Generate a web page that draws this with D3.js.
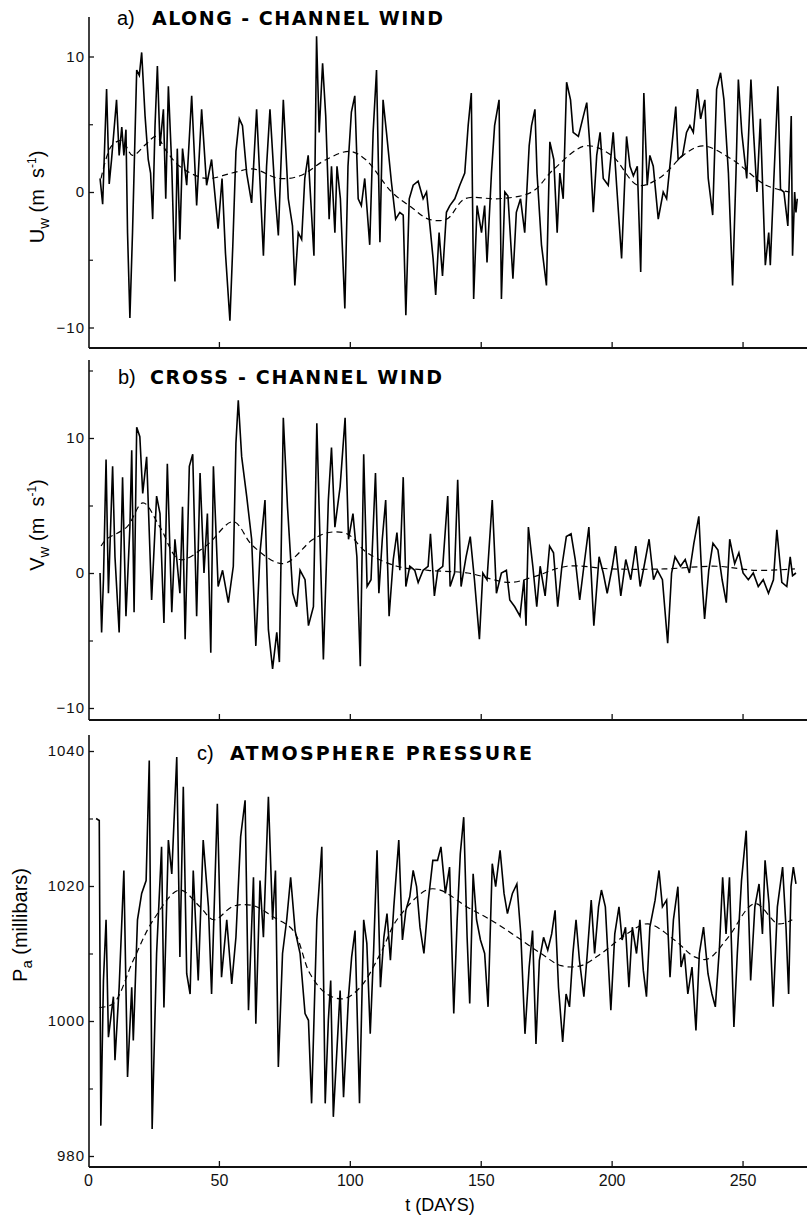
<!DOCTYPE html>
<html>
<head>
<meta charset="utf-8">
<script src="https://cdn.jsdelivr.net/npm/d3@7"></script>
<style>
  body { margin: 0; background: #fff; }
  svg { display: block; font-family: "Liberation Sans", Arial, sans-serif; }
  .tick text { font-size: 15px; fill: #111; letter-spacing: 1px; }
  .xlab .tick text { font-size: 16px; letter-spacing: 0; }
  .ylab { white-space: pre; }
  .ptitle { font-family: "DejaVu Sans", sans-serif; font-weight: bold; font-size: 19px; }
</style>
</head>
<body>
<div class="chart"></div>
<script>
// tick values
const xTicks = [0, 50, 100, 150, 200, 250];
const windTicks = [-10, 0, 10];
const windMinor = [-5, 5];
const pressTicks = [980, 1000, 1020, 1040];
const pressMinor = [990, 1010, 1030];

// a) along-channel wind (m/s)
const uDay = [4.6,5.6,7.1,8.1,9.0,10.9,11.9,12.9,13.7,14.5,15.1,16.0,17.0,18.6,19.6,20.5,21.8,23.0,23.9,24.7,25.6,26.5,27.5,28.8,29.7,30.7,32.0,33.2,34.1,35.1,36.1,37.7,39.6,41.5,43.4,45.3,47.2,49.7,51.2,52.5,54.2,55.3,56.5,57.8,59.0,60.6,62.5,64.4,65.7,67.0,68.2,69.5,71.4,72.7,74.6,76.5,78.1,79.0,80.3,81.6,82.8,84.1,85.4,86.3,87.3,88.3,89.6,90.8,92.1,93.0,94.3,95.1,96.4,98.1,99.3,100.6,101.9,103.2,104.4,105.7,107.6,108.9,110.2,111.5,112.7,114.0,115.9,117.5,119.1,120.4,121.4,122.7,124.2,126.1,128.0,129.3,130.6,131.8,132.8,134.1,135.4,136.9,138.2,140.1,142.0,143.9,145.2,146.4,147.3,148.6,150.3,151.5,152.4,154.1,155.3,157.0,157.9,159.2,160.4,162.3,163.6,165.2,166.8,168.5,169.4,170.7,171.5,173.2,175.1,176.4,177.9,179.2,180.2,181.5,182.8,184.3,185.3,187.3,189.2,190.5,191.7,193.0,194.3,195.6,196.8,198.7,200.6,201.9,203.8,205.7,207.0,208.3,209.8,211.1,212.3,213.6,214.6,215.9,217.8,219.7,221.0,222.9,224.5,225.4,227.1,228.6,229.9,231.2,232.8,234.0,235.6,236.9,238.6,240.1,241.6,242.9,244.6,246.2,247.5,248.4,249.7,251.6,253.2,254.2,255.5,256.8,258.7,260.0,260.6,261.9,263.5,264.5,265.8,267.3,268.6,269.1,269.9,270.4,270.9];
const uVal = [1.0,-0.9,7.6,0.6,2.4,6.8,2.7,4.8,2.7,4.6,-3.0,-9.3,-3.0,9.0,8.6,10.3,5.6,2.4,1.4,-2.0,4.9,9.3,3.4,6.1,-0.5,7.8,1.9,-6.6,3.2,-3.5,3.2,0.5,7.1,-1.0,6.1,0.5,2.4,-2.7,1.0,-4.5,-9.5,-4.0,3.0,5.4,4.9,1.4,-0.8,6.1,0.7,-4.7,1.9,6.1,0.0,-3.2,6.8,-0.5,-2.5,-6.9,-3.0,-3.5,1.0,2.7,-1.7,-4.7,11.5,4.4,9.5,5.6,-2.0,1.9,-3.0,1.9,-0.5,-8.6,1.9,5.9,7.1,-0.5,-1.0,1.0,-3.9,4.4,9.0,-3.7,6.8,4.4,0.7,-2.0,-1.5,-1.7,-9.1,-0.5,0.5,0.8,-0.5,0,-2.5,-4.9,-7.6,-3.0,-6.2,-1.5,-1.0,-0.5,0.5,1.4,4.9,7.3,-7.9,-1.0,-3.0,-1.0,-5.2,1.4,4.9,6.8,-7.9,0,-0.3,-6.4,-1.5,-0.5,-3.0,3.4,4.9,6.1,1.4,-3.9,-6.9,3.7,2.4,-3.0,1.4,-0.5,8.1,6.8,4.4,4.1,5.6,6.6,3.4,-1.5,2.7,4.4,1.0,0.5,4.4,0.5,-4.9,4.1,1.9,1.2,1.9,-5.9,7.3,0.5,2.7,1.9,-2.0,0,-0.5,3.2,6.3,2.4,2.7,4.4,4.9,4.4,7.6,5.4,6.8,1.0,-1.7,7.6,8.8,6.8,1.4,-6.9,1.4,8.3,4.4,1.0,8.3,4.4,0,5.4,-5.4,-3.0,-5.4,0.7,7.8,0.2,0,-2.5,5.6,-4.7,0,-1.5,-0.5];
const uMeanDay = [5,9,13,17,22,26,30,35,45,55,63,73,81,91,100,106,116,124,130,137,144,157,169.5,178,190,200,210,218,228.6,235,246,259,268];
const uMeanVal = [1.0,3.4,3.8,2.7,3.5,4.1,3.0,1.9,1.0,1.4,1.7,1.0,1.2,2.4,3.0,2.4,0,-1.2,-2.0,-2.0,-0.5,-0.5,0,1.7,3.4,2.7,0.5,1.0,2.9,3.4,2.4,0.5,0];

// b) cross-channel wind (m/s)
const vDay = [4.6,5.2,5.9,6.9,7.8,9.4,10.3,11.9,13.2,14.5,16.0,16.7,17.6,18.6,19.8,20.9,22.4,24.3,26.2,27.5,29.0,30.3,32.0,33.2,35.1,36.1,37.1,38.7,40.0,41.5,42.8,44.3,45.6,46.9,47.9,49.7,51.4,53.6,55.5,56.5,57.4,58.7,60.6,62.5,64.1,65.7,67.6,68.9,70.5,72.1,73.1,74.6,76.2,78.2,79.7,81.0,82.9,84.2,86.1,87.4,88.6,89.9,91.8,93.0,94.3,96.3,98.2,99.5,101.2,102.7,104.0,105.3,106.6,108.1,109.8,111.1,112.4,113.7,115.0,116.6,118.0,119.1,120.4,121.4,122.9,124.8,126.1,128.0,129.9,130.8,132.3,133.6,135.5,137.4,138.3,140.0,141.2,142.5,144.4,146.0,147.6,149.5,150.8,152.4,154.4,156.0,157.9,159.8,161.1,163.0,165.0,166.5,167.3,168.2,169.9,171.4,172.7,174.6,176.3,177.8,179.4,181.0,182.7,184.5,186.1,187.8,189.4,191.3,193.2,195.2,196.8,198.3,200.3,201.5,203.5,205.4,207.3,209.2,210.9,212.4,214.3,216.0,217.5,219.4,221.4,222.9,224.2,226.3,228.1,229.7,231.4,233.3,234.5,235.5,237.1,238.7,240.6,242.2,243.8,245.1,247.0,248.6,250.2,252.2,254.1,256.0,257.9,259.9,261.8,263.1,265.0,266.9,268.2,269.1,270.4];
const vVal = [0,-4.4,-0.5,8.4,-1.5,7.9,1.2,-4.4,7.1,-3.2,3.4,9.1,-2.9,10.8,10.1,5.9,8.6,-2.0,5.7,4.4,-3.7,8.1,-2.9,2.5,-1.5,4.9,-4.9,7.9,8.8,-3.2,7.4,0,4.4,-5.9,7.9,-1.0,0.2,-2.2,0.5,9.6,12.8,8.6,5.7,2.5,-5.4,1.5,5.4,-4.2,-7.1,-4.4,-6.6,11.5,4.9,-1.5,-2.5,0.2,-0.5,-3.9,-2.5,11.1,2.5,-6.4,5.4,9.3,3.4,6.4,11.5,2.5,4.4,1.2,-6.9,8.8,-1.0,-0.5,7.4,-1.5,2.5,5.4,-3.2,1.0,3.0,0.2,7.1,-1.0,0.5,0.2,-0.7,0.2,0.5,2.9,-1.7,0.2,0.5,5.7,-1.0,0,6.9,-1.0,1.2,2.7,-0.5,-4.9,0,-0.5,5.4,-1.5,0,0.2,-2.0,-2.5,-3.2,-0.5,-3.9,3.4,0.5,-2.5,0.5,-1.7,2.0,1.5,-2.5,0.5,2.7,2.9,1.0,-2.0,0.5,3.4,-3.9,1.2,0,-1.5,0.5,2.0,-1.7,1.0,-0.5,2.0,-1.0,0.5,2.5,-0.5,0.2,-0.5,-5.2,0,1.2,0.5,1.0,0,2.2,4.2,-0.5,-3.4,0.2,2.2,1.7,-0.5,-2.2,2.5,0.7,1.5,0,-0.5,0,-1.0,-0.5,-1.5,-0.5,3.2,-0.7,-1.0,1.2,-0.2,0];
const vMeanDay = [5,7,14.8,21,27.5,35,45,55.5,63,74.6,86,92,99,106.6,118,130,145,161,170,183,200,220,240,255,270];
const vMeanVal = [2.0,2.5,3.4,5.2,3.4,1.0,2.0,3.8,2.0,0.7,2.5,3.0,2.9,1.5,0.5,0.2,0,-0.7,-0.3,0.5,0.3,0.3,0.5,0.2,0.3];

// c) atmospheric pressure (millibars)
const pDay = [3.1,4.3,4.9,5.9,6.9,7.8,9.7,10.3,11.9,13.7,15.1,16.7,17.3,18.9,20.5,22.2,23.4,24.5,26.2,28.1,29.0,30.7,32.0,33.9,35.1,36.4,37.7,39.0,40.2,42.1,44.0,46.0,47.2,49.4,51.0,53.0,54.9,56.5,58.3,60.0,61.3,63.2,64.1,65.7,67.0,68.9,70.5,71.6,72.7,74.3,75.9,77.4,79.1,81.0,82.9,84.2,85.4,87.4,89.3,90.6,91.8,92.7,93.7,95.0,96.3,97.6,99.5,100.7,102.0,103.7,105.3,106.5,107.8,109.1,110.4,111.7,113.0,114.2,115.5,116.8,118.7,120.1,121.4,122.9,124.2,125.5,126.8,128.3,130.0,131.7,133.5,134.8,136.5,138.1,139.7,141.0,142.2,143.5,144.8,145.8,147.1,148.4,149.9,151.5,152.8,154.4,155.7,157.4,158.9,160.2,162.1,163.8,165.3,166.9,168.5,169.8,171.1,172.4,174.0,175.6,177.1,178.4,179.7,181.3,182.6,183.9,185.2,186.4,187.7,189.4,190.7,192.2,193.5,195.0,196.1,197.6,199.7,201.2,202.8,204.0,205.3,206.6,207.9,209.5,210.8,212.1,213.3,214.6,216.6,218.1,219.4,221.0,222.3,223.6,225.3,226.5,227.8,229.1,230.7,232.2,233.5,235.1,236.8,238.3,239.6,241.2,242.4,243.7,245.0,246.7,248.0,249.6,251.4,253.1,254.7,256.3,257.6,258.6,260.1,261.7,263.3,265.3,266.6,267.6,268.5,269.4,270.4];
const pVal = [1030,1029.7,984.5,1006,1015,997.6,1003.6,994.2,1005,1022.3,991.7,1005,997.1,1015,1018.9,1020.8,1038.6,984,1010,1025.8,1002,1026.8,1021.8,1039.1,1009.5,1034.7,1007,1004,1022.3,1006,1026.8,1016.9,1004,1032.2,1006.5,1015,1005.5,1012.4,1027.3,1032.7,1001.6,1021.3,999.6,1020.8,1012.4,1033.2,1015,1022.3,993.2,1010,1015,1021.3,1013.4,1010,1001.1,1000.1,987.8,1015,1025.8,987.8,1000.1,1006,985.8,995.2,1004.5,988.7,1003.6,1009.5,1013.4,987.8,1015,1011.5,998.1,1010.5,1025.3,1005,1012.4,1015.9,1009,1016.9,1026.8,1012,1016.4,1018.4,1022.3,1019.9,1013.9,1010,1017.9,1023.8,1023.8,1025.8,1018.9,1022.8,1001.1,1015,1024.8,1030.2,1012.4,1002.6,1021.8,1015,1012,1010,1002.1,1023.3,1019.9,1025.3,1018.9,1015.9,1018.9,1020.3,1012.9,998.1,1008,1013.4,996.6,1009,1012.4,1010.5,1012.9,1016.4,1005,996.9,1004,1002.1,1010,1015,1009,1003.6,1010,1017.9,1010,1016.9,1019.4,1016.9,1001.6,1012.9,1016.9,1012,1013.9,1005,1013.9,1010,1015,1007.5,1003.6,1013.9,1017.9,1022.3,1016.9,1017.9,1006.5,1015,1019.9,1008,1010,1004,1008,998.6,1010,1013.9,1007,1004,1002.1,1011,1021.3,1012.9,1021.3,999.1,1010,1020.8,1028.2,1006,1016.9,1020.3,1012.9,1023.8,1017.4,1002.1,1016.9,1022.8,1013.9,1004,1019.9,1022.8,1020.3];
const pMeanDay = [4.4,9.7,17.3,25,35,42.8,48,55.5,63,70.8,78.4,84.8,91.2,97.6,104,111.7,118,129.3,134.5,144.8,153.7,164,173,180.7,188.3,196,206.2,213.9,224,231.7,236.8,244.5,254.7,263.6,269];
const pMeanVal = [1002,1002.6,1009,1015,1019.4,1016.9,1015,1017,1017.1,1015.4,1013.4,1007,1004,1003.3,1005,1010,1015,1019.4,1019.4,1016.9,1015,1012.4,1010,1008.2,1008.2,1010,1013,1014.4,1012,1009.5,1009.2,1012.4,1017.4,1014.4,1015];

const width = 807, height = 1216;
const axisX = 89;

const svg = d3.select('.chart').append('svg')
    .attr('width', width)
    .attr('height', height);

const xScale = d3.scaleLinear().domain([0, 275]).range([88, 808]);

function drawPanel(p) {
    const yScale = d3.scaleLinear().domain(p.domain).range(p.range);
    const g = svg.append('g');

    // left axis line and ticks (ticks point inward)
    g.append('line')
        .attr('x1', axisX).attr('x2', axisX)
        .attr('y1', p.top).attr('y2', p.bottom)
        .attr('stroke', '#111').attr('stroke-width', 1.6);

    g.append('g')
        .attr('transform', `translate(${axisX},0)`)
        .call(d3.axisLeft(yScale).tickValues(p.ticks).tickSize(-5).tickPadding(4).tickFormat(d3.format('d')))
        .call(a => a.select('.domain').remove())
        .call(a => a.selectAll('line').attr('stroke', '#111').attr('stroke-width', 1.3));

    g.append('g')
        .attr('transform', `translate(${axisX},0)`)
        .call(d3.axisLeft(yScale).tickValues(p.minor).tickSize(-4).tickFormat(''))
        .call(a => a.select('.domain').remove())
        .call(a => a.selectAll('line').attr('stroke', '#111').attr('stroke-width', 1.2));

    // bottom axis
    g.append('line')
        .attr('x1', axisX).attr('x2', width)
        .attr('y1', p.bottom).attr('y2', p.bottom)
        .attr('stroke', '#111').attr('stroke-width', 2);

    const xAxis = g.append('g')
        .attr('class', p.labels ? 'xlab' : '')
        .attr('transform', `translate(0,${p.bottom})`)
        .call(d3.axisBottom(xScale).tickValues(p.labels ? xTicks : xTicks.slice(1))
            .tickSize(-6).tickPadding(8).tickFormat(p.labels ? d3.format('d') : ''))
        .call(a => a.select('.domain').remove())
        .call(a => a.selectAll('line').attr('stroke', '#111').attr('stroke-width', 1.3));
    if (p.labels) xAxis.selectAll('.tick').filter(d => d === 0).select('line').remove();

    // series
    const line = d3.line().x(d => xScale(d[0])).y(d => yScale(d[1]));

    g.append('path')
        .datum(d3.zip(p.day, p.val))
        .attr('d', line)
        .attr('fill', 'none')
        .attr('stroke', '#000')
        .attr('stroke-width', 1.6)
        .attr('stroke-linejoin', 'miter');

    g.append('path')
        .datum(d3.zip(p.meanDay, p.meanVal))
        .attr('d', line.curve(d3.curveCatmullRom))
        .attr('fill', 'none')
        .attr('stroke', '#000')
        .attr('stroke-width', 1.2)
        .attr('stroke-dasharray', '6,4');

    // panel title
    g.append('text')
        .attr('x', p.tx).attr('y', p.ty)
        .attr('font-size', 20)
        .text(p.letter);
    g.append('text')
        .attr('class', 'ptitle')
        .attr('x', p.tx2).attr('y', p.ty)
        .attr('textLength', p.tlen)
        .attr('lengthAdjust', 'spacing')
        .text(p.title);

    // y label
    const yl = g.append('text')
        .attr('class', 'ylab')
        .attr('transform', `translate(${p.lx},${p.ly}) rotate(-90)`)
        .attr('text-anchor', 'middle')
        .attr('font-size', 20);
    yl.append('tspan').text(p.sym);
    yl.append('tspan').attr('font-size', 15).attr('dy', 5).text(p.sub);
    yl.append('tspan').attr('dy', -5).text(p.unit);
    if (p.sup) {
        yl.append('tspan').attr('font-size', 12).attr('dy', -8).text(p.sup);
        yl.append('tspan').attr('dy', 8).text(')');
    }
}

drawPanel({
    domain: [-10, 10], range: [327.5, 56.5], top: 17, bottom: 348,
    ticks: windTicks, minor: windMinor,
    day: uDay, val: uVal, meanDay: uMeanDay, meanVal: uMeanVal,
    letter: 'a)', title: 'ALONG - CHANNEL WIND', tx: 117, tx2: 152, ty: 25, tlen: 291,
    sym: 'U', sub: 'w', unit: ' (m  s', sup: '-1', lx: 44, ly: 197
});

drawPanel({
    domain: [-10, 10], range: [708, 438], top: 360, bottom: 720,
    ticks: windTicks, minor: windMinor.concat([15]),
    day: vDay, val: vVal, meanDay: vMeanDay, meanVal: vMeanVal,
    letter: 'b)', title: 'CROSS - CHANNEL WIND', tx: 118, tx2: 150, ty: 384, tlen: 292,
    sym: 'V', sub: 'w', unit: ' (m  s', sup: '-1', lx: 44, ly: 525
});

drawPanel({
    domain: [980, 1040], range: [1156, 751], top: 735, bottom: 1167,
    ticks: pressTicks, minor: pressMinor, labels: true,
    day: pDay, val: pVal, meanDay: pMeanDay, meanVal: pMeanVal,
    letter: 'c)', title: 'ATMOSPHERE  PRESSURE', tx: 197, tx2: 230, ty: 760, tlen: 302,
    sym: 'P', sub: 'a', unit: ' (millibars)', lx: 27, ly: 925
});

// x axis title
svg.append('text')
    .attr('x', 440).attr('y', 1211)
    .attr('text-anchor', 'middle')
    .attr('font-size', 18)
    .text('t (DAYS)');
</script>
</body>
</html>
